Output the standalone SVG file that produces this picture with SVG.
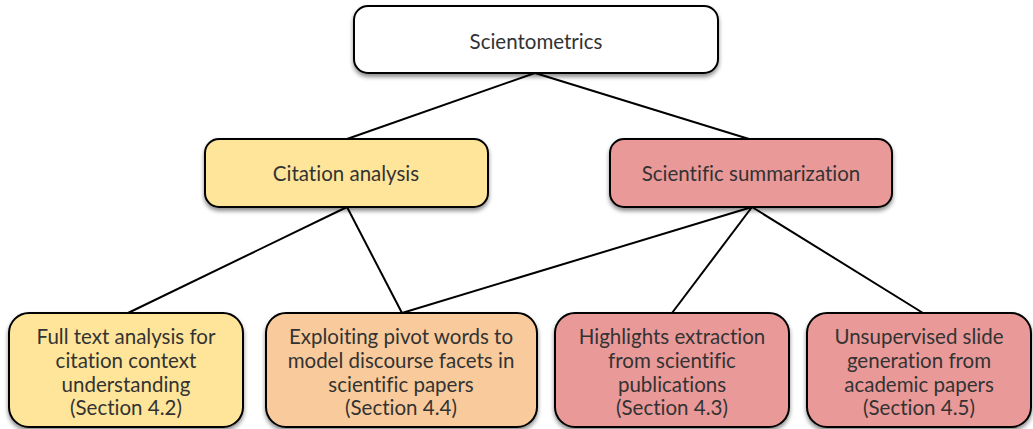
<svg xmlns="http://www.w3.org/2000/svg" width="1033" height="429" viewBox="0 0 1033 429">
  <defs>
    <filter id="shadow" x="-10%" y="-20%" width="120%" height="150%">
      <feDropShadow dx="0" dy="3" stdDeviation="2" flood-color="#000" flood-opacity="0.45"/>
    </filter>
    <style>
      .box { stroke: #000; stroke-width: 2; filter: url(#shadow); }
      .white { fill: #ffffff; }
      .yellow { fill: #ffe599; }
      .orange { fill: #f9cb9c; }
      .pink { fill: #ea9999; }
      .label { font-family: Lato, "Noto Sans", "Liberation Sans", sans-serif; font-size: 20.5px; fill: #333333; text-anchor: middle; font-variant-ligatures: none; font-feature-settings: "liga" 0, "dlig" 0; }
      .edge { stroke: #000; stroke-width: 2; fill: none; }
    </style>
  </defs>
  <rect width="1033" height="429" fill="#ffffff"/>

  <g id="connectors">
    <line class="edge" x1="535" y1="73" x2="347" y2="139"/>
    <line class="edge" x1="535" y1="73" x2="749" y2="139"/>
    <line class="edge" x1="347" y1="207" x2="128" y2="313"/>
    <line class="edge" x1="347" y1="207" x2="402" y2="313"/>
    <line class="edge" x1="752" y1="207" x2="402" y2="313"/>
    <line class="edge" x1="752" y1="207" x2="672" y2="313"/>
    <line class="edge" x1="752" y1="207" x2="923" y2="313"/>
  </g>

  <g id="scientometrics">
    <rect class="box white" x="354" y="6" width="364" height="67" rx="14"/>
    <text class="label" x="536" y="49">Scientometrics</text>
  </g>

  <g id="citation-analysis">
    <rect class="box yellow" x="205" y="139" width="283" height="68" rx="14"/>
    <text class="label" x="346" y="181">Citation analysis</text>
  </g>

  <g id="scientific-summarization">
    <rect class="box pink" x="610" y="139" width="282" height="68" rx="14"/>
    <text class="label" x="751" y="181">Scientific summarization</text>
  </g>

  <g id="full-text-analysis">
    <rect class="box yellow" x="9" y="313" width="234" height="114" rx="20"/>
    <text class="label" x="126" y="344">Full text analysis for</text>
    <text class="label" x="126" y="368">citation context</text>
    <text class="label" x="126" y="392">understanding</text>
    <text class="label" x="126" y="415">(Section 4.2)</text>
  </g>

  <g id="pivot-words">
    <rect class="box orange" x="266" y="313" width="271" height="114" rx="20"/>
    <text class="label" x="401" y="344">Exploiting pivot words to</text>
    <text class="label" x="401" y="368">model discourse facets in</text>
    <text class="label" x="401" y="392">scientific papers</text>
    <text class="label" x="401" y="415">(Section 4.4)</text>
  </g>

  <g id="highlights-extraction">
    <rect class="box pink" x="555" y="313" width="234" height="114" rx="20"/>
    <text class="label" x="672" y="344">Highlights extraction</text>
    <text class="label" x="672" y="368">from scientific</text>
    <text class="label" x="672" y="392">publications</text>
    <text class="label" x="672" y="415">(Section 4.3)</text>
  </g>

  <g id="slide-generation">
    <rect class="box pink" x="807" y="313" width="224" height="114" rx="20"/>
    <text class="label" x="919" y="344">Unsupervised slide</text>
    <text class="label" x="919" y="368">generation from</text>
    <text class="label" x="919" y="392">academic papers</text>
    <text class="label" x="919" y="415">(Section 4.5)</text>
  </g>
</svg>
